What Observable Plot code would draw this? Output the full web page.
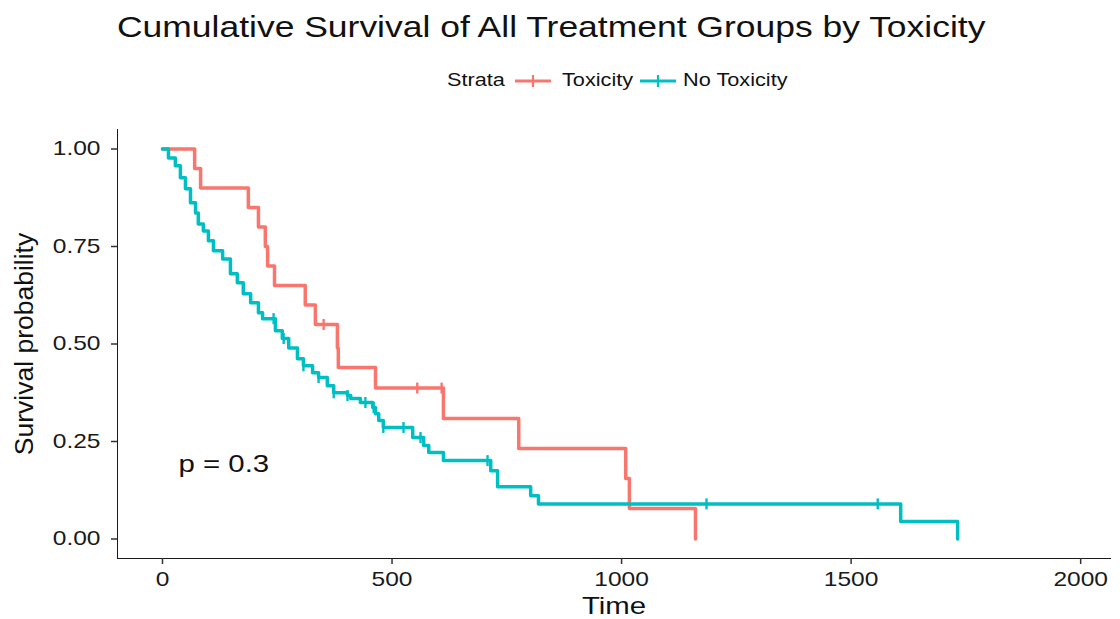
<!DOCTYPE html>
<html><head><meta charset="utf-8">
<script src="https://cdn.jsdelivr.net/npm/d3@7"></script>
<script src="https://cdn.jsdelivr.net/npm/@observablehq/plot@0.6"></script>
<style>
body{margin:0;background:#fff;font-family:"Liberation Sans",Arial,Helvetica,sans-serif;}
#wrap{position:relative;width:1120px;height:619px;overflow:hidden;background:#fff;}
#head{position:relative;width:1120px;height:100px;}
.st{position:absolute;display:inline-block;white-space:nowrap;transform:scaleX(1.24);transform-origin:0 50%;color:#111;line-height:1;}
.key{position:absolute;}
#chart svg{display:block;}
#chart svg g[aria-label$="axis line"] *{stroke-width:1.9px;stroke:#333;}
#chart svg g[aria-label$="axis tick"] *{stroke-width:1.5px;stroke:#333;}
#chart svg path.domain{stroke-width:1.9px;stroke:#333;}
#chart svg g.tick line{stroke-width:1.5px;stroke:#333;}
</style></head><body>
<div id="wrap"><div id="head"></div><div id="chart"></div></div>
<script>
// ---- data ----
const titleText = "Cumulative Survival of All Treatment Groups by Toxicity";
const legendTitle = "Strata";
const groups = ["Toxicity", "No Toxicity"];
const colors = ["#F8766D", "#00BFC4"];

const toxTime = [0, 70, 83, 187, 209, 224, 229, 244, 311, 333, 381, 383, 464, 612, 776, 1009, 1017, 1161];
const toxSurv = [1, 0.95, 0.90, 0.85, 0.80, 0.75, 0.70, 0.65, 0.60, 0.55, 0.49, 0.44, 0.387, 0.309, 0.232, 0.155, 0.078, 0];
const toxCensor = [351, 555, 608];

const noToxTime = [0, 13, 28, 39, 50, 61, 72, 78, 89, 100, 111, 131, 148, 163, 176, 192, 209, 218, 246, 261, 275, 294, 307, 327, 340, 359, 373, 403, 410, 431, 458, 464, 471, 481, 545, 569, 580, 612, 715, 730, 802, 819, 1608, 1732];
const noToxSurv = [1, 0.977, 0.957, 0.926, 0.898, 0.862, 0.836, 0.808, 0.790, 0.765, 0.739, 0.718, 0.68, 0.657, 0.629, 0.606, 0.58, 0.565, 0.534, 0.514, 0.49, 0.462, 0.444, 0.426, 0.414, 0.393, 0.375, 0.368, 0.36, 0.35, 0.337, 0.321, 0.304, 0.286, 0.26, 0.24, 0.222, 0.201, 0.175, 0.134, 0.111, 0.09, 0.045, 0];
const noToxCensor = [242, 264, 307, 340, 373, 403, 442, 460, 481, 525, 562, 708, 1185, 1558];

const xTicks = [0, 500, 1000, 1500, 2000];
const yTicks = [0, 0.25, 0.5, 0.75, 1];
const xLabel = "Time";
const yLabel = "Survival probability";
const pLabel = "p = 0.3";
const pX = 35, pY = 0.19;

// ---- build tables ----
const STRETCH = 1.24;
function survAt(times, surv, t) { let s = surv[0]; for (let i = 0; i < times.length; i++) if (times[i] <= t) s = surv[i]; return s; }
const toxRows = toxTime.map((t, i) => ({time: t, surv: toxSurv[i]}));
const noToxRows = noToxTime.map((t, i) => ({time: t, surv: noToxSurv[i]}));
const toxCens = toxCensor.map(t => ({time: t, surv: survAt(toxTime, toxSurv, t)}));
const noToxCens = noToxCensor.map(t => ({time: t, surv: survAt(noToxTime, noToxSurv, t)}));

const vbar = {draw(ctx, size) { const r = Math.sqrt(size / Math.PI); ctx.moveTo(0, -r); ctx.lineTo(0, r); }};

// ---- header ----
const head = document.getElementById("head");
function addText(txt, left, top, size) {
  const s = document.createElement("span"); s.className = "st"; s.textContent = txt;
  s.style.left = left + "px"; s.style.top = top + "px"; s.style.fontSize = size + "px";
  head.appendChild(s); return s;
}
addText(titleText, 117, 13, 28.6);
addText(legendTitle, 447, 72, 17.5);
function addKey(left, color) {
  const ns = "http://www.w3.org/2000/svg";
  const k = document.createElementNS(ns, "svg"); k.setAttribute("width", 36); k.setAttribute("height", 20);
  k.setAttribute("class", "key"); k.style.left = left + "px"; k.style.top = "71px";
  k.innerHTML = `<line x1="0" x2="36" y1="10" y2="10" stroke="${color}" stroke-width="3.2"/><line x1="18" x2="18" y1="4" y2="16" stroke="${color}" stroke-width="2.2"/>`;
  head.appendChild(k);
}
addKey(515, colors[0]); addText(groups[0], 562, 72, 17.5);
addKey(640, colors[1]); addText(groups[1], 683, 72, 17.5);

// ---- chart ----
const chart = Plot.plot({
  width: 1120, height: 519,
  marginLeft: 117, marginRight: 10, marginTop: 29, marginBottom: 61,
  style: {fontFamily: "Liberation Sans, Arial, sans-serif", fontSize: "19.8px", color: "#1a1a1a", background: "#fff"},
  x: {domain: [-98, 2065], ticks: xTicks, tickFormat: d3.format("d"), tickSize: 6, tickPadding: 7, line: true, label: null},
  y: {domain: [-0.05, 1.05], ticks: yTicks, tickFormat: d => d.toFixed(2), tickSize: 6, tickPadding: 11, line: true, label: null},
  marks: [
    Plot.line(toxRows, {x: "time", y: "surv", curve: "step-after", stroke: colors[0], strokeWidth: 3.5}),
    Plot.dot(toxCens, {x: "time", y: "surv", symbol: vbar, r: 5.5, stroke: colors[0], strokeWidth: 2.4, fill: "none"}),
    Plot.line(noToxRows, {x: "time", y: "surv", curve: "step-after", stroke: colors[1], strokeWidth: 3.5}),
    Plot.dot(noToxCens, {x: "time", y: "surv", symbol: vbar, r: 5.5, stroke: colors[1], strokeWidth: 2.4, fill: "none"}),
    Plot.text([{x: pX, y: pY, label: pLabel}], {x: "x", y: "y", text: "label", textAnchor: "start", fontSize: 23.7, fill: "#111"}),
    Plot.text([xLabel], {frameAnchor: "bottom", lineAnchor: "middle", textAnchor: "middle", dy: 48, text: d => d, fontSize: 23.7, fill: "#111"}),
    Plot.text([yLabel], {frameAnchor: "left", lineAnchor: "middle", textAnchor: "middle", rotate: -90, dx: -93, text: d => d, fontSize: 26.5, fill: "#111"})
  ]
});
document.getElementById("chart").appendChild(chart);
// horizontal stretch of horizontal texts to match the reference proportions
chart.querySelectorAll("text").forEach(t => {
  if (t.textContent === yLabel) return;
  const w = t.getComputedTextLength();
  if (w > 0) { t.setAttribute("textLength", w * STRETCH); t.setAttribute("lengthAdjust", "spacingAndGlyphs"); }
});
</script>
</body></html>
